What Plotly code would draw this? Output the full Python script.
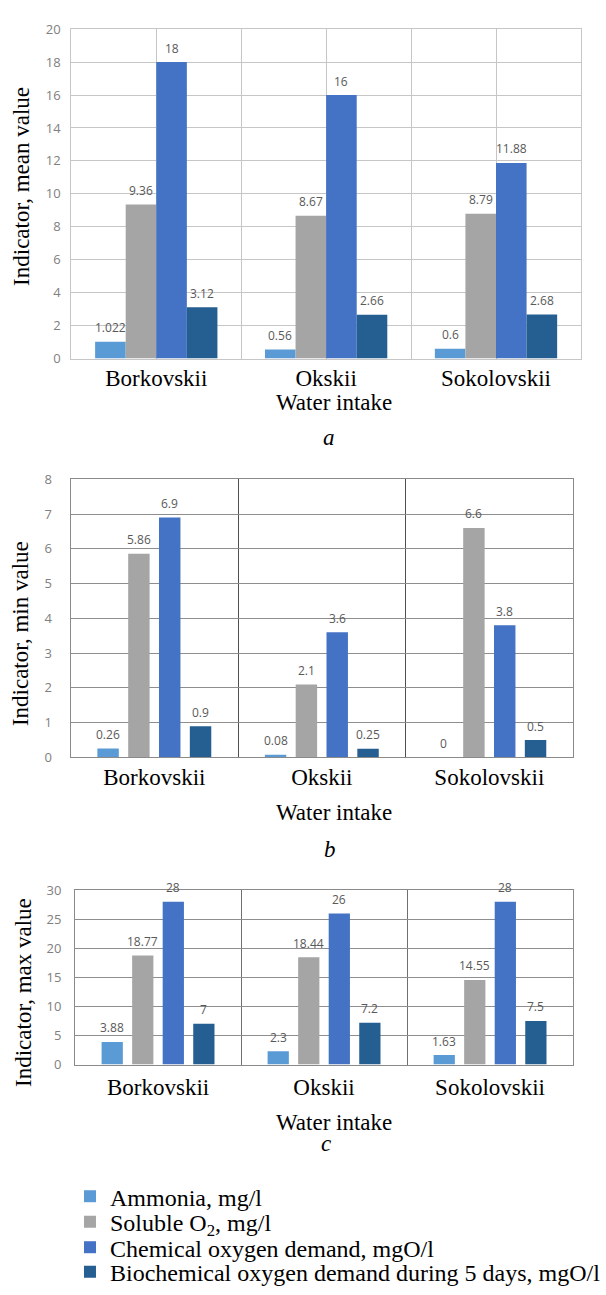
import plotly.graph_objects as go

# ---- data ---------------------------------------------------------------
categories = ["Borkovskii", "Okskii", "Sokolovskii"]
series_names = [
    "Ammonia, mg/l",
    "Soluble O<sub>2</sub>, mg/l",
    "Chemical oxygen demand, mgO/l",
    "Biochemical oxygen demand during 5 days, mgO/l",
]
series_colors = ["#5b9bd5", "#a5a5a5", "#4472c4", "#255e91"]

mean_ammonia = [1.022, 0.56, 0.6]
mean_o2 = [9.36, 8.67, 8.79]
mean_cod = [18, 16, 11.88]
mean_bod = [3.12, 2.66, 2.68]

min_ammonia = [0.26, 0.08, 0]
min_o2 = [5.86, 2.1, 6.6]
min_cod = [6.9, 3.6, 3.8]
min_bod = [0.9, 0.25, 0.5]

max_ammonia = [3.88, 2.3, 1.63]
max_o2 = [18.77, 18.44, 14.55]
max_cod = [28, 26, 28]
max_bod = [7, 7.2, 7.5]

mean_ticks = [0, 2, 4, 6, 8, 10, 12, 14, 16, 18, 20]
min_ticks = [0, 1, 2, 3, 4, 5, 6, 7, 8]
max_ticks = [0, 5, 10, 15, 20, 25, 30]

# ---- page geometry (pixels) ----------------------------------------------
W, H = 606, 1295


def px(x):
    return x / W


def py(y):
    return 1 - y / H


SERIF = "Liberation Serif, Times New Roman, serif"
SANS = "Open Sans, Liberation Sans, Arial, sans-serif"

panels = [
    dict(
        series=[mean_ammonia, mean_o2, mean_cod, mean_bod],
        ticks=mean_ticks,
        ytitle="Indicator, mean value",
        letter="a",
        box=(73.4, 20.5, 597.7, 356.5),
        bar_width=0.18, bar_pitch=0.18,
        grid="#c6c6c6", sep="#c6c6c6", frame="#c6c6c6", center_grid=True,
        ystand=7, xstand=-1, ytitle_pos=(22, 181), xtitle_y=401, letter_pos=(338, 437),
    ),
    dict(
        series=[min_ammonia, min_o2, min_cod, min_bod],
        ticks=min_ticks,
        ytitle="Indicator, min value",
        letter="b",
        box=(72.6, 479.5, 589.6, 763.2),
        bar_width=0.128, bar_pitch=0.184,
        grid="#8e8e8e", sep="#4f4f4f", frame="#8a8a8a", center_grid=False,
        ystand=15, xstand=-1, ytitle_pos=(21, 637), xtitle_y=819, letter_pos=(340, 857),
    ),
    dict(
        series=[max_ammonia, max_o2, max_cod, max_bod],
        ticks=max_ticks,
        ytitle="Indicator, max value",
        letter="c",
        box=(77.2, 898.5, 589.6, 1076.3),
        bar_width=0.128, bar_pitch=0.184,
        grid="#8e8e8e", sep="#707070", frame="#8a8a8a", center_grid=False,
        ystand=10, xstand=2, ytitle_pos=(24, 1003), xtitle_y=1135, letter_pos=(335, 1157),
    ),
]

fig = go.Figure()
annotations = []
layout = dict(
    width=W,
    height=H,
    margin=dict(l=0, r=0, t=0, b=0),
    paper_bgcolor="white",
    plot_bgcolor="white",
    barmode="overlay",
    showlegend=True,
)

cat_pos = list(range(len(categories)))

for p_idx, p in enumerate(panels):
    suffix = "" if p_idx == 0 else str(p_idx + 1)
    xa, ya = "x" + suffix, "y" + suffix
    x0, y0, x1, y1 = p["box"]
    n = len(p["series"])
    for k, values in enumerate(p["series"]):
        center = (k - (n - 1) / 2) * p["bar_pitch"]
        trace = go.Bar(
            x=cat_pos,
            y=values,
            width=p["bar_width"],
            offset=center - p["bar_width"] / 2,
            marker=dict(color=series_colors[k], line=dict(width=0)),
            name=series_names[k],
            xaxis=xa,
            yaxis=ya,
            showlegend=(p_idx == 0),
            legendgroup=str(k),
            hoverinfo="skip",
        )
        if p_idx == 0:
            trace.legend = "legend" if k == 0 else "legend%d" % (k + 1)
        fig.add_trace(trace)
        # value labels above every bar
        for i, v in enumerate(values):
            annotations.append(dict(
                x=i + center, y=v, xref=xa, yref=ya,
                text=f"{v:g}", showarrow=False,
                yanchor="middle", yshift=14,
                font=dict(family=SANS, size=12, color="#595959"),
            ))

    layout["xaxis" + suffix] = dict(
        domain=[px(x0), px(x1)],
        anchor=ya,
        range=[-0.5, len(categories) - 0.5],
        tickvals=cat_pos,
        ticktext=categories,
        tickfont=dict(family=SERIF, size=23, color="black"),
        ticks="",
        ticklabelstandoff=p["xstand"],
        showgrid=p["center_grid"],
        gridcolor=p["grid"],
        gridwidth=1,
        minor=dict(tickvals=[i + 0.5 for i in cat_pos[:-1]], showgrid=True,
                   gridcolor=p["sep"], gridwidth=1, ticks=""),
        showline=True, linecolor=p["frame"], linewidth=1, mirror=True,
        zeroline=False,
        fixedrange=True,
    )
    layout["yaxis" + suffix] = dict(
        domain=[py(y1), py(y0)],
        anchor=xa,
        range=[p["ticks"][0], p["ticks"][-1]],
        tickvals=p["ticks"],
        tickfont=dict(family=SANS, size=13, color="#808080"),
        ticks="",
        ticklabelstandoff=p["ystand"],
        showgrid=True, gridcolor=p["grid"], gridwidth=1,
        showline=True, linecolor=p["frame"], linewidth=1, mirror=True,
        zeroline=False,
        fixedrange=True,
    )

    # axis titles and panel letter
    tx, ty = p["ytitle_pos"]
    annotations.append(dict(
        x=px(tx), y=py(ty), xref="paper", yref="paper",
        text=p["ytitle"], textangle=-90, showarrow=False,
        xanchor="center", yanchor="middle",
        font=dict(family=SERIF, size=23, color="black"),
    ))
    annotations.append(dict(
        x=px(344), y=py(p["xtitle_y"]), xref="paper", yref="paper",
        text="Water intake", showarrow=False,
        xanchor="center", yanchor="middle",
        font=dict(family=SERIF, size=23, color="black"),
    ))
    lx, ly = p["letter_pos"]
    annotations.append(dict(
        x=px(lx), y=py(ly), xref="paper", yref="paper",
        text="<i>%s</i>" % p["letter"], showarrow=False,
        xanchor="center", yanchor="middle",
        font=dict(family=SERIF, size=23, color="black"),
    ))

# one legend box per series, stacked under the panels
legend_rows = [1211, 1237, 1263, 1288]
for k, row in enumerate(legend_rows):
    key = "legend" if k == 0 else "legend%d" % (k + 1)
    layout[key] = dict(
        x=px(72), y=py(row), xanchor="left", yanchor="middle",
        xref="paper", yref="paper",
        font=dict(family=SERIF, size=24, color="black"),
        bgcolor="rgba(0,0,0,0)", borderwidth=0,
        itemclick=False, itemdoubleclick=False,
    )

layout["annotations"] = annotations
fig.update_layout(**layout)
fig.write_html("out.html")
